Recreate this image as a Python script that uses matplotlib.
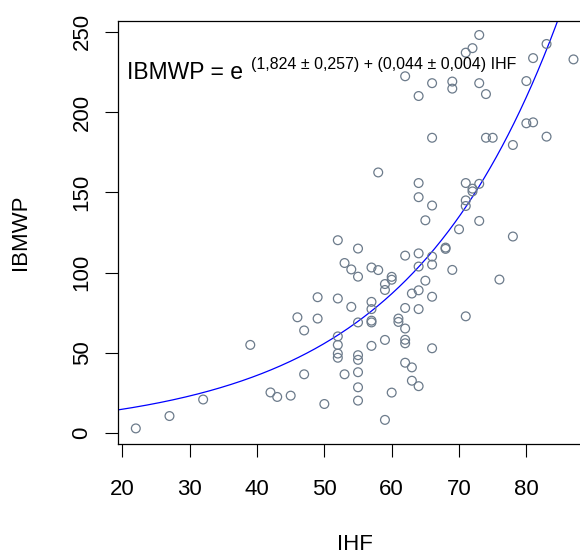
"""
IBMWP against IHF with the fitted exponential curve.
"""

import numpy as np
import matplotlib
matplotlib.use("Agg")
import matplotlib.pyplot as plt

# IHF values (x)
ihf = [
    22, 27, 32, 39, 42, 43, 45, 46, 47, 47,
    49, 49, 50, 52, 52, 52, 52, 52, 52, 53,
    53, 54, 54, 55, 55, 55, 55, 55, 55, 55,
    55, 57, 57, 57, 57, 57, 57, 58, 58, 59,
    59, 59, 59, 60, 60, 60, 61, 61, 62, 62,
    62, 62, 62, 62, 62, 63, 63, 63, 64, 64,
    64, 64, 64, 64, 64, 64, 65, 65, 66, 66,
    66, 66, 66, 66, 66, 68, 68, 69, 69, 69,
    70, 71, 71, 71, 71, 71, 72, 72, 72, 73,
    73, 73, 73, 74, 74, 75, 76, 78, 78, 80,
    80, 81, 81, 83, 83, 87,
]

# IBMWP values (y), same order as ihf
ibmwp = [
    3, 10.7, 21, 55, 25.4, 22.6, 23.4, 72.2, 64, 36.7,
    84.7, 71.4, 18.2, 120.2, 83.9, 60.3, 55, 49.6, 47, 106,
    36.7, 102, 78.7, 115, 97.5, 69, 48.6, 45.7, 38, 28.6,
    20.3, 103.2, 81.8, 77.3, 70.1, 69, 54.4, 101.6, 162.4, 92.9,
    89.2, 58.1, 8.3, 97.4, 95.6, 25.3, 71.4, 69.3, 222.3, 110.6,
    78, 65.2, 58.2, 56, 43.9, 87, 41, 32.7, 210, 155.8,
    147, 112, 103.8, 89, 77.3, 29.3, 132.6, 95, 218, 184,
    141.8, 110, 105, 85, 52.9, 115.6, 114.8, 219, 214.6, 101.7,
    127, 237, 155.8, 145, 141.5, 72.8, 239.8, 152.3, 150.6, 248,
    218, 155.3, 132.2, 211.2, 184, 184, 95.7, 179.5, 122.5, 219.3,
    193, 233.6, 193.6, 242.4, 184.7, 232.8,
]

# fitted model shown on the chart: IBMWP = exp(a + b * IHF)
coef_a = 1.824
coef_b = 0.044

x_ticks = [20, 30, 40, 50, 60, 70, 80]
y_ticks = [0, 50, 100, 150, 200, 250]

main_eq = "IBMWP = e"
exp_eq = "(1,824 \u00b1 0,257) + (0,044 \u00b1 0,004) IHF"


def main():
    plt.rcParams["font.family"] = ["Liberation Sans", "DejaVu Sans"]

    W, H = 580, 555
    fig = plt.figure(figsize=(W / 100, H / 100), dpi=100)

    # plot region in pixels (right edge runs past the image, like the source)
    left, right, top, bottom = 118.3, 591.0, 20.7, 443.5
    ax = fig.add_axes([left / W, 1 - bottom / H, (right - left) / W, (bottom - top) / H])

    ax.scatter(ihf, ibmwp, s=40, facecolors="none", edgecolors="#6C7B8B",
               linewidths=0.9, zorder=3)

    ax.set_xlim(19.4, 89.6)
    ax.set_ylim(-6.4, 256.9)

    xs = np.linspace(19.4, 89.6, 400)
    ax.plot(xs, np.exp(coef_a + coef_b * xs), color="#0000FF", lw=0.9, zorder=2)

    ax.set_xticks(x_ticks)
    ax.set_yticks(y_ticks)
    ax.tick_params(axis="both", direction="out", length=9.5, width=0.8,
                   labelsize=16, color="black")
    ax.tick_params(axis="x", pad=16)
    ax.tick_params(axis="y", pad=9)
    for lab in ax.get_yticklabels():
        lab.set_rotation(90)
        lab.set_va("center")

    for sp in ax.spines.values():
        sp.set_linewidth(0.9)
        sp.set_color("black")

    # equation: base text plus a smaller raised exponent
    ax.text(0.019, 0.8614, main_eq, transform=ax.transAxes, fontsize=16.5,
            ha="left", va="baseline")
    ax.text(0.2814, 0.885, exp_eq, transform=ax.transAxes, fontsize=11.5,
            ha="left", va="baseline")

    fig.text(354.6 / W, 1 - 550 / H, "IHF", fontsize=16, ha="center", va="baseline")
    fig.text(21 / W, 1 - 232 / H, "IBMWP", fontsize=16, rotation=90,
             ha="center", va="center")

    fig.savefig("out.png", dpi=100)


if __name__ == "__main__":
    main()
